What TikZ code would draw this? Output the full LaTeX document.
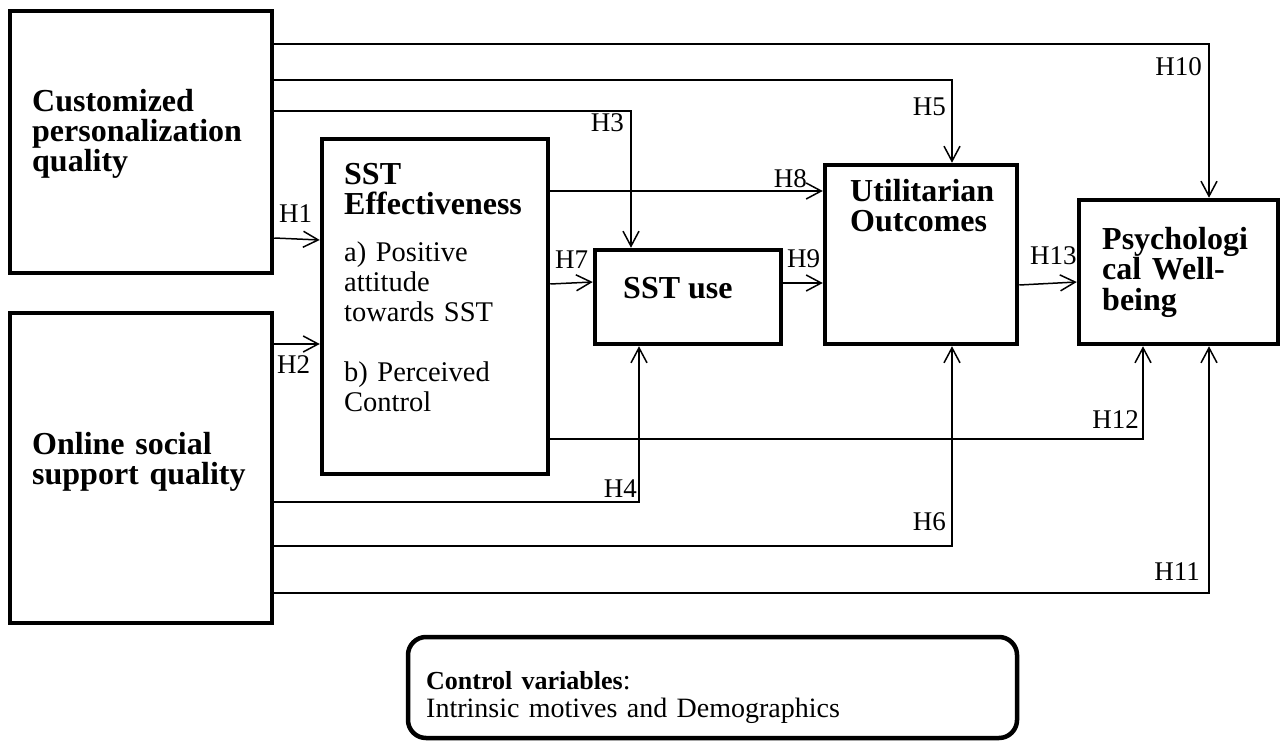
\documentclass[tikz,border=0pt]{standalone}
\usepackage{fontspec}
\setmainfont{Liberation Serif}
\usetikzlibrary{arrows.meta}

\begin{document}
\begin{tikzpicture}[x=1pt,y=-1pt]
\tikzstyle{box}=[rectangle, draw=black, line width=4.5pt, inner sep=0pt]
\tikzstyle{connect}=[-{Straight Barb[length=15pt,width=16pt]}, line width=1.5pt]
\tikzstyle{hyp}=[inner sep=0pt, font=\fontsize{27}{30}\selectfont]
\tikzstyle{heading}=[inner sep=0pt, anchor=base west, align=left, font=\fontsize{32}{30}\selectfont\bfseries]
\tikzstyle{body}=[inner sep=0pt, anchor=base west, align=left, font=\fontsize{28.5}{30}\selectfont]
  \useasboundingbox (0,0) rectangle (1281,743);
  % constructs
  \node[box, minimum width=262pt, minimum height=262pt] (cpq) at (141,142) {};
  \node[box, minimum width=262pt, minimum height=310pt] (oss) at (141,468) {};
  \node[box, minimum width=226pt, minimum height=335pt] (eff) at (435,306.5) {};
  \node[box, minimum width=186pt, minimum height=94pt] (use) at (688,297) {};
  \node[box, minimum width=192pt, minimum height=179pt] (util) at (921,254.5) {};
  \node[box, minimum width=199pt, minimum height=144pt] (pwb) at (1178.5,272) {};
  \node[box, rounded corners=18pt, minimum width=609pt, minimum height=101pt] (ctrl) at (712.5,687.5) {};
  % texts
  \node[heading, text width=240pt] (cpqtext) at (32,112) {Customized\\personalization\\quality};
  \node[heading, text width=240pt] (osstext) at (32,454) {Online social\\support quality};
  \node[body, text width=210pt] (efftext) at (344,185) {{\fontsize{32}{30}\selectfont\bfseries SST\\Effectiveness}\\[17pt]
    a) Positive\\attitude\\towards SST\\[30pt]
    b) Perceived\\Control};
  \node[heading] (usetext) at (623,298) {SST use};
  \node[heading, text width=170pt] (utiltext) at (850,202) {Utilitarian\\Outcomes};
  \node[heading, text width=175pt] (pwbtext) at (1102,250) {Psychologi\\cal Well-\\being};
  \node[body, text width=560pt, font=\fontsize{28}{28}\selectfont] (ctrltext) at (426,689)
    {{\fontsize{26}{28}\selectfont\bfseries Control variables}:\\Intrinsic motives and Demographics};
  % paths
  \draw[connect] (cpq.east |- 0,44) -| (1209,0 |- pwb.north);
  \draw[connect] (cpq.east |- 0,80) -| (952,0 |- util.north);
  \draw[connect] (cpq.east |- 0,111) -| (631,0 |- use.north);
  \draw[connect] (cpq.east |- 0,238) -- (eff.west |- 0,240);
  \draw[connect] (oss.east |- 0,344) -- (eff.west |- 0,344);
  \draw[connect] (eff.east |- 0,191) -- (util.west |- 0,191);
  \draw[connect] (eff.east |- 0,284) -- (use.west |- 0,282);
  \draw[connect] (use.east |- 0,283) -- (util.west |- 0,283);
  \draw[connect] (util.east |- 0,285) -- (pwb.west |- 0,282);
  \draw[connect] (eff.east |- 0,439) -| (1143,0 |- pwb.south);
  \draw[connect] (oss.east |- 0,502) -| (639,0 |- use.south);
  \draw[connect] (oss.east |- 0,546) -| (952,0 |- util.south);
  \draw[connect] (oss.east |- 0,593) -| (1209,0 |- pwb.south);
  % hypotheses
  \node[hyp, anchor=base west] (h1) at (279,223) {H1};
  \node[hyp, anchor=base west] (h2) at (277,373) {H2};
  \node[hyp, anchor=base east] (h3) at (624,132) {H3};
  \node[hyp, anchor=base east] (h4) at (637,497) {H4};
  \node[hyp, anchor=base east] (h5) at (946,116) {H5};
  \node[hyp, anchor=base east] (h6) at (946,530) {H6};
  \node[hyp, anchor=base west] (h7) at (555,269) {H7};
  \node[hyp, anchor=base east] (h8) at (807,188) {H8};
  \node[hyp, anchor=base west] (h9) at (787,267) {H9};
  \node[hyp, anchor=base east] (h10) at (1202,76) {H10};
  \node[hyp, anchor=base east] (h11) at (1200,580) {H11};
  \node[hyp, anchor=base east] (h12) at (1139,428) {H12};
  \node[hyp, anchor=base west] (h13) at (1030,265) {H13};
\end{tikzpicture}
\end{document}
